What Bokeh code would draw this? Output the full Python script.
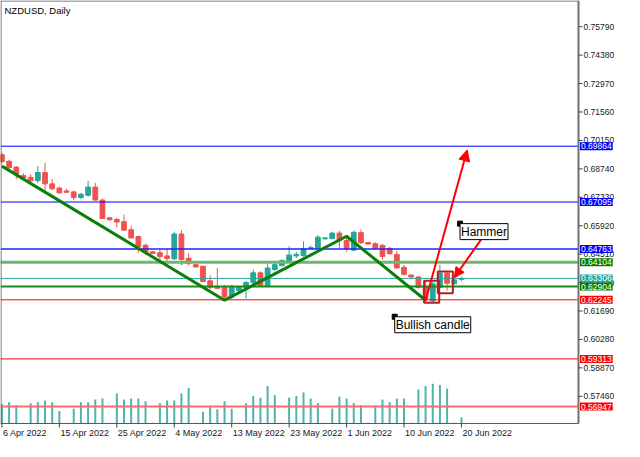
import pandas as pd
from bokeh.plotting import figure
from bokeh.models import ColumnDataSource, Range1d, Label, Arrow, NormalHead
from bokeh.core.properties import value
from bokeh.embed import file_html
from bokeh.resources import INLINE

chart_title = "NZDUSD, Daily"

# daily bars (broker shows Sunday bars, no Saturday bars)
dates = [d.strftime("%Y-%m-%d") for d in pd.date_range("2022-04-06", "2022-06-20") if d.weekday() != 5]

opens = [0.69438, 0.69116, 0.68827, 0.68404, 0.68317, 0.68154, 0.68558, 0.67995, 0.67788, 0.67644,
         0.67596, 0.67322, 0.67432, 0.67836, 0.67192, 0.66312, 0.66230, 0.66119, 0.65720, 0.65383,
         0.64950, 0.64628, 0.64580, 0.64421, 0.64277, 0.65508, 0.64306, 0.63988, 0.63907, 0.63185,
         0.62911, 0.62863, 0.62382, 0.62704, 0.62863, 0.63103, 0.63584, 0.62945, 0.63748, 0.63940,
         0.64147, 0.64421, 0.64436, 0.64787, 0.64787, 0.65268, 0.65287, 0.65556, 0.65191, 0.64710,
         0.65576, 0.65085, 0.65027, 0.64941, 0.64796, 0.64498, 0.63858, 0.63474, 0.63377, 0.62896,
         0.62189, 0.62863, 0.63570, 0.63041, 0.63257]
highs = [0.69534, 0.69197, 0.68875, 0.68524, 0.68476, 0.68875, 0.69039, 0.68236, 0.67865, 0.67755,
         0.67658, 0.67548, 0.68154, 0.68043, 0.67274, 0.66360, 0.66312, 0.66470, 0.65912, 0.65431,
         0.65027, 0.64676, 0.64758, 0.64758, 0.65624, 0.65710, 0.64546, 0.64027, 0.63930, 0.63459,
         0.63825, 0.62978, 0.62993, 0.62887, 0.63185, 0.63748, 0.63666, 0.64065, 0.64099, 0.64258,
         0.64902, 0.64628, 0.65143, 0.64950, 0.65460, 0.65350, 0.65624, 0.65672, 0.65398, 0.65687,
         0.65735, 0.65109, 0.65109, 0.65027, 0.64869, 0.64676, 0.63979, 0.63498, 0.63426, 0.63185,
         0.63137, 0.63988, 0.63642, 0.63257, 0.63392]
lows = [0.69005, 0.68765, 0.68236, 0.68260, 0.68091, 0.68043, 0.67673, 0.67673, 0.67514, 0.67548,
        0.67192, 0.67240, 0.67355, 0.67177, 0.66264, 0.66167, 0.65831, 0.65672, 0.65268, 0.64580,
        0.64469, 0.64508, 0.64229, 0.64065, 0.64229, 0.63955, 0.63955, 0.63834, 0.63137, 0.62752,
        0.62775, 0.62223, 0.62305, 0.62656, 0.62305, 0.63026, 0.62930, 0.62921, 0.63666, 0.63907,
        0.64099, 0.64306, 0.64388, 0.64758, 0.64758, 0.65239, 0.65239, 0.64820, 0.64628, 0.64647,
        0.65011, 0.64989, 0.64748, 0.64229, 0.64484, 0.63786, 0.63450, 0.63353, 0.62800, 0.62151,
        0.62126, 0.62825, 0.62704, 0.63017, 0.63161]
closes = [0.69101, 0.68798, 0.68476, 0.68308, 0.68154, 0.68558, 0.67995, 0.67755, 0.67548, 0.67577,
          0.67322, 0.67480, 0.67836, 0.67192, 0.66278, 0.66215, 0.66105, 0.65701, 0.65316, 0.64869,
          0.64580, 0.64546, 0.64388, 0.64291, 0.65508, 0.64243, 0.64036, 0.63873, 0.63151, 0.62863,
          0.62815, 0.62382, 0.62911, 0.62863, 0.63103, 0.63584, 0.62945, 0.63825, 0.63988, 0.64195,
          0.64469, 0.64498, 0.64772, 0.64835, 0.65350, 0.65316, 0.65556, 0.65191, 0.64787, 0.65591,
          0.65075, 0.65011, 0.64796, 0.64388, 0.64532, 0.63825, 0.63507, 0.63377, 0.62863, 0.62305,
          0.63041, 0.63570, 0.63065, 0.63233, 0.63306]
tick_volumes = [20000, 22000, 18700, 800, 21000, 22000, 23700, 22000, 13000, 800,
                15300, 22000, 22000, 24700, 25700, 800, 31000, 24700, 25700, 25700,
                23000, 800, 21000, 23700, 23700, 31000, 36700, 800, 12000, 18300,
                14700, 23000, 15300, 800, 21000, 28300, 26700, 38700, 29300, 800,
                26700, 28300, 32000, 25700, 21000, 800, 15300, 27700, 25700, 21000,
                19000, 800, 18300, 24700, 22000, 25700, 25700, 800, 35000, 38700,
                41000, 39700, 36000, 800, 6300]

price_ticks = [0.7579, 0.7438, 0.7297, 0.7156, 0.7015, 0.6874, 0.6733, 0.6592,
               0.6451, 0.6310, 0.6169, 0.6028, 0.5887, 0.5746]
date_tick_dates = ["2022-04-06", "2022-04-15", "2022-04-25", "2022-05-04", "2022-05-13",
                   "2022-05-23", "2022-06-01", "2022-06-10", "2022-06-20"]
date_tick_labels = ["6 Apr 2022", "15 Apr 2022", "25 Apr 2022", "4 May 2022", "13 May 2022",
                    "23 May 2022", "1 Jun 2022", "10 Jun 2022", "20 Jun 2022"]

# horizontal levels
level_prices = [0.69864, 0.67095, 0.64763, 0.64104, 0.63306, 0.62904, 0.62245, 0.59313, 0.56947]
level_colors = ["#0000ff", "#0000ff", "#2020ff", "#6cb86c", "#2aa8a0", "#1a8a1a", "#ff0000", "#ff0000", "#ff6a6a"]
level_widths = [1, 1, 1.5, 3, 1, 2, 1, 1, 2]
level_box_colors = ["#0000ff", "#0000ff", "#0000ff", "#008000", "#20a8a0", "#008000", "#ff0000", "#ff0000", "#ff0000"]

# zigzag
zigzag_dates = ["2022-04-06", "2022-05-12", "2022-06-01", "2022-06-14"]
zigzag_prices = [0.68875, 0.62223, 0.65398, 0.62223]

# pattern boxes (bar index bounds, price bounds)
box_left = [58.8, 60.7]
box_right = [60.9, 62.8]
box_top = [0.63185, 0.63652]
box_bottom = [0.62096, 0.62567]

# text notes
note_texts = ["Hammer", "Bullish candle"]
note_x = [63.8, 54.7]
note_y = [0.66023, 0.61405]

# arrows: (x_start, y_start, x_end, y_end)
arrow_up = (59.0, 0.62200, 64.8, 0.69680)
arrow_down = (66.8, 0.65268, 63.0, 0.63344)

# ---------------- geometry ----------------
W, H = 624, 441
PLOT_W, CHART_H = 578, 423
X0, X1 = -0.2, 80.3
Y0, Y1 = 0.5611, 0.7709
sx = (X1 - X0) / PLOT_W          # bar units per pixel
sy = (Y1 - Y0) / CHART_H         # price per pixel
VPP = 1031                        # volume per pixel

idx = {d: i for i, d in enumerate(dates)}
xs = list(range(len(dates)))
bull = [c >= o for o, c in zip(opens, closes)]
col = ["#26a69a" if b else "#ef5350" for b in bull]
src = ColumnDataSource(dict(x=xs, o=opens, h=highs, l=lows, c=closes,
                            top=[max(o, c) for o, c in zip(opens, closes)],
                            bot=[min(o, c) for o, c in zip(opens, closes)],
                            vol=tick_volumes, col=col))

p = figure(width=W, height=H, x_range=Range1d(X0, X0 + W * sx), y_range=Range1d(Y1 - H * sy, Y1),
           output_backend="svg", toolbar_location=None, x_axis_location=None, y_axis_location=None,
           min_border=0, background_fill_color="white", border_fill_color="white",
           outline_line_color=None)
p.grid.visible = False
p.extra_y_ranges = {"vol": Range1d(-(H - CHART_H) * VPP, CHART_H * VPP)}

# volumes
p.segment(x0="x", y0=0, x1="x", y1="vol", source=src, y_range_name="vol",
          line_color="#4fb3a9", line_width=2)

# candles
p.segment(x0="x", y0="h", x1="x", y1="l", source=src, line_color="col", line_width=1)
p.vbar(x="x", width=0.66, top="top", bottom="bot", source=src, fill_color="col", line_color="col")

# levels (stop at the price scale)
for lv, lc, lw in zip(level_prices, level_colors, level_widths):
    p.segment(x0=[X0], y0=[lv], x1=[X1], y1=[lv], line_color=lc, line_width=lw)

# zigzag
p.line(x=[idx[d] for d in zigzag_dates], y=zigzag_prices, line_color="#0a800a", line_width=3)

# pattern boxes
p.quad(left=box_left, right=box_right, top=box_top, bottom=box_bottom,
       fill_color=None, line_color="#b22222", line_width=2)

# arrows
p.add_layout(Arrow(end=NormalHead(size=11, fill_color="#ff0000", line_color="#ff0000"),
                   x_start=arrow_up[0], y_start=arrow_up[1], x_end=arrow_up[2], y_end=arrow_up[3],
                   line_color="#ff0000", line_width=2))
p.add_layout(Arrow(end=NormalHead(size=10, fill_color="#ff0000", line_color="#ff0000"),
                   x_start=arrow_down[0], y_start=arrow_down[1], x_end=arrow_down[2], y_end=arrow_down[3],
                   line_color="#ff0000", line_width=2))

# notes
for t, nx, ny in zip(note_texts, note_x, note_y):
    p.add_layout(Label(x=nx, y=ny, text=t, text_font="Liberation Sans", text_font_size="12px",
                       text_color="black", text_baseline="top", text_align="left",
                       background_fill_color="white", border_line_color="black",
                       border_line_width=1, padding=1))
p.scatter(x=note_x, y=note_y, marker="square", size=5, color="black")

# chart frame
FRAME = "#5a5a5a"
p.segment(x0=[X0 + 0.5 * sx, X0, X0], y0=[Y0, Y1 - 0.5 * sy, Y0],
          x1=[X0 + 0.5 * sx, X1, X1], y1=[Y1, Y1 - 0.5 * sy, Y0],
          line_color=FRAME, line_width=1)
p.segment(x0=[X1], y0=[Y0], x1=[X1], y1=[Y1], line_color="#707070", line_width=2)

# title
p.text(x=[X0 + 4 * sx], y=[Y1 - 4 * sy], text=[chart_title], text_font=value("Liberation Sans"),
       text_font_size=value("9.5px"), text_color="black", text_baseline="top", text_align="left")

# price scale
p.segment(x0=[X1] * len(price_ticks), y0=price_ticks, x1=[X1 + 4 * sx] * len(price_ticks),
          y1=price_ticks, line_color="#404040", line_width=1)
p.text(x=[X1 + 5 * sx] * len(price_ticks), y=price_ticks, text=[f"{t:.5f}" for t in price_ticks],
       text_font=value("Liberation Sans"), text_font_size=value("8.5px"), text_color="#202020",
       text_baseline="middle", text_align="left")

# price boxes on the scale
for lv, bc in zip(level_prices, level_box_colors):
    p.add_layout(Label(x=X1 + 1.5 * sx, y=lv, text=f"{lv:.5f}", text_font="Liberation Sans",
                       text_font_size="8.5px", text_color="white", text_baseline="middle",
                       text_align="left", background_fill_color=bc, padding=1))

# date scale
tick_pos = [idx[d] for d in date_tick_dates]
p.segment(x0=tick_pos, y0=[Y0] * len(tick_pos), x1=tick_pos, y1=[Y0 - 4 * sy] * len(tick_pos),
          line_color="#404040", line_width=1)
p.text(x=[t + 1 * sx for t in tick_pos], y=[Y0 - 4 * sy] * len(tick_pos), text=date_tick_labels,
       text_font=value("Liberation Sans"), text_font_size=value("9px"), text_color="#202020",
       text_baseline="top", text_align="left")

open("out.html", "w").write(file_html(p, INLINE, title="NZDUSD, Daily"))
